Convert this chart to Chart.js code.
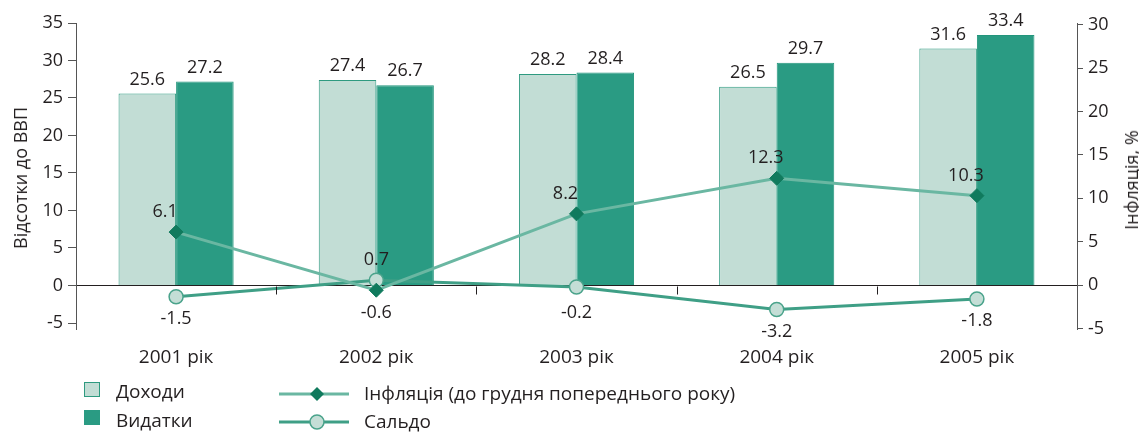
<!DOCTYPE html>
<html>
<head>
<meta charset="utf-8">
<script src="https://cdn.jsdelivr.net/npm/chart.js@4.4.1/dist/chart.umd.min.js"></script>
<style>
  body { margin: 0; background: #fff; font-family: "Open Sans", sans-serif; color: #231f20; }
  #wrap { position: relative; width: 1139px; height: 437px; overflow: hidden; }
  .ttl { position: absolute; font-size: 18px; white-space: nowrap; transform: translate(-50%, -50%) rotate(-90deg); }
  .lg { position: absolute; font-size: 19px; white-space: nowrap; transform: translateY(-50%); }
  .sq { position: absolute; width: 14px; height: 13px; }
</style>
</head>
<body>
<div id="wrap">
  <canvas id="chart"></canvas>
  <div class="ttl" style="left:20px; top:178px;">Відсотки до ВВП</div>
  <div class="ttl" style="left:1131px; top:180px;">Інфляція, %</div>

  <div class="sq" style="left:84px; top:382px; background:#c2ddd5; border:1px solid #2e9a80;"></div>
  <div class="lg" style="left:116px; top:391px;">Доходи</div>
  <div class="sq" style="left:84px; top:410px; background:#2a9b83; border:1px solid #2a9b83;"></div>
  <div class="lg" style="left:116px; top:420px;">Видатки</div>

  <svg style="position:absolute; left:279px; top:384px;" width="72" height="20">
    <line x1="0" y1="10" x2="70" y2="10" stroke="#6ab7a2" stroke-width="3"/>
    <polygon points="38,3 45,10 38,17 31,10" fill="#107a5d"/>
  </svg>
  <div class="lg" style="left:364px; top:393px;">Інфляція (до грудня попереднього року)</div>
  <svg style="position:absolute; left:279px; top:412px;" width="72" height="20">
    <line x1="0" y1="10" x2="70" y2="10" stroke="#3f9f86" stroke-width="3"/>
    <circle cx="38" cy="10" r="7" fill="#c4ded6" stroke="#4aa38b" stroke-width="1.5"/>
  </svg>
  <div class="lg" style="left:364px; top:421px;">Сальдо</div>
</div>
<script>
var years = ['2001 рік', '2002 рік', '2003 рік', '2004 рік', '2005 рік'];
var revenues = [25.6, 27.4, 28.2, 26.5, 31.6];
var expenditures = [27.2, 26.7, 28.4, 29.7, 33.4];
var inflation = [6.1, -0.6, 8.2, 12.3, 10.3];
var balance = [-1.5, 0.7, -0.2, -3.2, -1.8];
var leftTicks = [-5, 0, 5, 10, 15, 20, 25, 30, 35];
var rightTicks = [-5, 0, 5, 10, 15, 20, 25, 30];

var FONT = { family: 'Open Sans', size: 18 };
var TEXT = '#231f20';

function setTicks(list) {
    return function(scale) {
        scale.ticks = list.map(function(v){ return { value: v }; });
    };
}

// value labels for bars and both lines, plus the small marks between years on the zero line
var valueLabels = {
    id: 'valueLabels',
    afterDatasetsDraw: function(chart) {
        var ctx = chart.ctx;
        var xs = chart.scales.x;
        var zeroY = Math.round(chart.scales.y.getPixelForValue(0)) + 0.5;
        ctx.save();
        ctx.strokeStyle = '#231f20';
        ctx.lineWidth = 1;
        for (var k = 1; k < years.length; k++) {
            var bx = Math.round((xs.getPixelForValue(k - 1) + xs.getPixelForValue(k)) / 2) + 0.5;
            ctx.beginPath();
            ctx.moveTo(bx, zeroY);
            ctx.lineTo(bx, zeroY + 8);
            ctx.stroke();
        }

        ctx.font = FONT.size + 'px "' + FONT.family + '"';
        ctx.fillStyle = TEXT;
        ctx.textAlign = 'center';
        var inflMeta = chart.getDatasetMeta(2);
        var balMeta = chart.getDatasetMeta(3);
        chart.data.datasets.forEach(function(ds, i) {
            var meta = chart.getDatasetMeta(i);
            meta.data.forEach(function(el, j) {
                var txt = ds.data[j].toFixed(1);
                if (ds.type === 'bar') {
                    ctx.textBaseline = 'alphabetic';
                    ctx.fillText(txt, el.x, el.y - 9);
                    return;
                }
                var other = (i === 2 ? balMeta : inflMeta).data[j];
                var above = el.y < other.y;
                var dx = (i === 2 && above) ? -11 : 0;
                if (above) {
                    ctx.textBaseline = 'alphabetic';
                    ctx.fillText(txt, el.x + dx, el.y - 15);
                } else {
                    ctx.textBaseline = 'top';
                    ctx.fillText(txt, el.x + dx, Math.max(el.y + 13, zeroY + 17));
                }
            });
        });
        ctx.restore();
    }
};

var chart = new Chart(document.getElementById('chart'), {
    data: {
        labels: years,
        datasets: [
            { type: 'bar', label: 'Доходи', data: revenues, yAxisID: 'y', order: 2,
              backgroundColor: '#c2ddd5', borderColor: '#2e9a80', borderWidth: 1,
              categoryPercentage: 0.575, barPercentage: 1 },
            { type: 'bar', label: 'Видатки', data: expenditures, yAxisID: 'y', order: 2,
              backgroundColor: '#2a9b83', borderColor: '#23957c', borderWidth: 1,
              categoryPercentage: 0.575, barPercentage: 1 },
            { type: 'line', label: 'Інфляція (до грудня попереднього року)', data: inflation, yAxisID: 'y2', order: 0,
              borderColor: '#6ab7a2', borderWidth: 3, tension: 0,
              pointStyle: 'rectRot', pointRadius: 7, pointBackgroundColor: '#107a5d', pointBorderColor: '#107a5d', pointBorderWidth: 1 },
            { type: 'line', label: 'Сальдо', data: balance, yAxisID: 'y', order: 1,
              borderColor: '#3f9f86', borderWidth: 3, tension: 0,
              pointStyle: 'circle', pointRadius: 7, pointBackgroundColor: '#c4ded6', pointBorderColor: '#4aa38b', pointBorderWidth: 1.5 }
        ]
    },
    options: {
        responsive: true,
        maintainAspectRatio: false,
        animation: false,
        layout: { padding: { left: 0, right: 0, top: 23, bottom: 108 } },
        plugins: { legend: { display: false }, tooltip: { enabled: false } },
        scales: {
            x: {
                position: { y: 0 },
                offset: true,
                border: { color: '#231f20', width: 1 },
                grid: { display: false },
                ticks: { font: { family: 'Open Sans', size: 19 }, color: TEXT, padding: 53 }
            },
            y: {
                position: 'left',
                min: -5.8, max: 35,
                afterBuildTicks: setTicks(leftTicks),
                afterFit: function(s){ s.width = 76; },
                border: { color: '#555', width: 1 },
                grid: { drawOnChartArea: false, tickLength: 8, color: '#555' },
                ticks: { font: FONT, color: TEXT, padding: 5 }
            },
            y2: {
                position: 'right',
                min: -5.07, max: 30.2,
                afterBuildTicks: setTicks(rightTicks),
                afterFit: function(s){ s.width = 62; },
                border: { color: '#555', width: 1 },
                grid: { drawOnChartArea: false, tickLength: 6, color: '#555' },
                ticks: { font: FONT, color: TEXT, padding: 5 }
            }
        }
    },
    plugins: [valueLabels]
});
</script>
</body>
</html>
